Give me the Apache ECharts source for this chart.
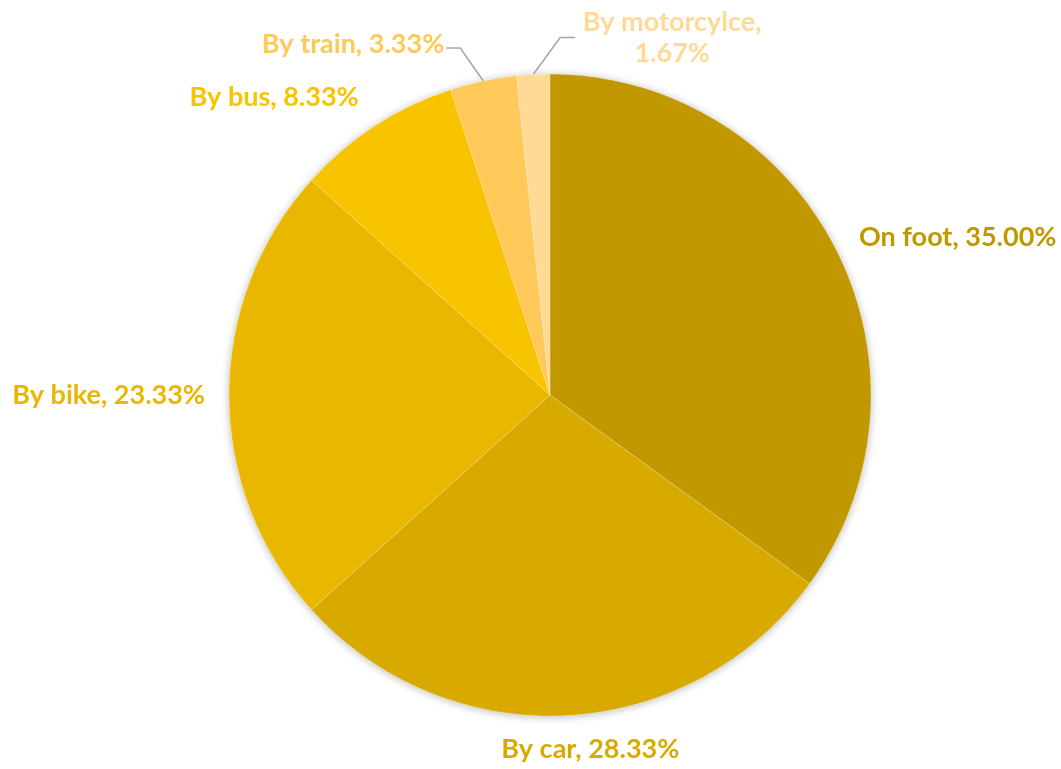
<!DOCTYPE html>
<html>
<head>
<meta charset="utf-8">
<script src="https://cdn.jsdelivr.net/npm/echarts@6/dist/echarts.min.js"></script>
<style>html,body{margin:0;padding:0;background:#fff}#c{width:1061px;height:769px}</style>
</head>
<body>
<div id="c"></div>
<script>
var categories = ['On foot', 'By car', 'By bike', 'By bus', 'By train', 'By motorcylce'];
var values = [21, 17, 14, 5, 2, 1];
var colors = ['#C19800', '#D8AA00', '#EAB700', '#F8C400', '#FFC95A', '#FFD996'];
var labelTexts = ['On foot, 35.00%', 'By car, 28.33%', 'By bike, 23.33%', 'By bus, 8.33%', 'By train, 3.33%', 'By motorcylce,\n1.67%'];

var chart = echarts.init(document.getElementById('c'));
var FONT = 'Lato';

var data = categories.map(function (n, i) {
  return {
    name: n,
    value: values[i],
    itemStyle: { color: colors[i] },
    label: { color: colors[i], formatter: labelTexts[i], align: i === 5 ? 'center' : undefined },
    labelLine: { show: i >= 4, length: 10, length2: 10 }
  };
});

chart.setOption({
  animation: false,
  series: [
    {
      type: 'pie',
      silent: true,
      center: [550, 395],
      radius: 321,
      z: 1,
      label: { show: false },
      labelLine: { show: false },
      itemStyle: { color: '#fff', shadowBlur: 9, shadowColor: 'rgba(0,0,0,0.28)', shadowOffsetY: 1 },
      data: values.map(function (v, i) { return { name: categories[i], value: v }; })
    },
    {
      type: 'pie',
      center: [550, 395],
      radius: 321,
      z: 2,
      startAngle: 90,
      clockwise: true,
      avoidLabelOverlap: false,
      itemStyle: { borderColor: 'rgba(255,255,255,0.2)', borderWidth: 1 },
      label: {
        show: true,
        position: 'outside',
        fontFamily: FONT,
        fontWeight: 'bold',
        fontSize: 27,
        lineHeight: 31,
        distanceToLabelLine: 4
      },
      labelLine: { lineStyle: { color: '#A6A6A6', width: 1.5 } },
      labelLayout: function (p) {
        var i = p.dataIndex;
        var pts = p.labelLinePoints;
        if (i === 4 && pts) {
          var a = pts[0];
          return {
            x: a[0] - 39, y: a[1] - 37, align: 'right', verticalAlign: 'middle',
            labelLinePoints: [a, [a[0] - 23, a[1] - 33], [a[0] - 37, a[1] - 33]]
          };
        }
        if (i === 5 && pts) {
          var b = pts[0];
          return {
            x: b[0] + 139, y: b[1] - 37, align: 'center', verticalAlign: 'middle',
            labelLinePoints: [b, [b[0] + 27, b[1] - 37], [b[0] + 42, b[1] - 37]]
          };
        }
        if (i === 1) return { dx: -80, dy: 24 };
        if (i === 0) return { dx: 0, dy: -7 };
        if (i === 3) return { dx: 3, dy: -20 };
        return {};
      },
      data: data
    }
  ]
});
</script>
</body>
</html>
